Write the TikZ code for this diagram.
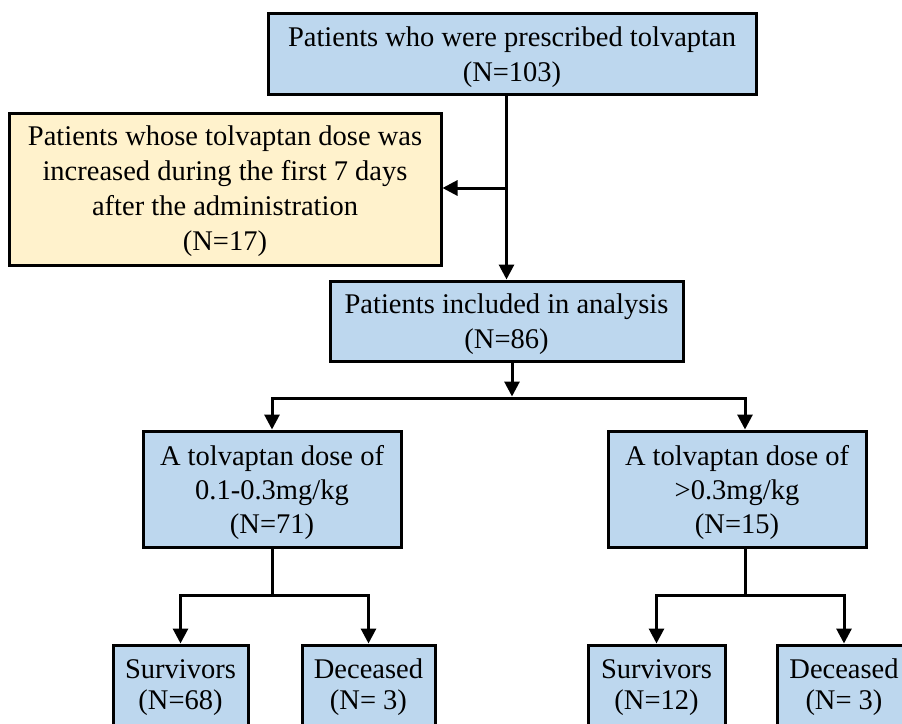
\documentclass[tikz,border=0pt]{standalone}
\usepackage{fontspec}
\setmainfont{Liberation Serif}
\usetikzlibrary{arrows.meta}
\definecolor{boxblue}{RGB}{189,215,238}
\definecolor{boxyellow}{RGB}{255,242,204}
\begin{document}
\begin{tikzpicture}[x=1pt,y=-1pt,
  box/.style={draw=black, line width=3pt, fill=boxblue, inner xsep=0pt, inner ysep=0pt,
    align=center, anchor=base, font=\fontsize{28.5}{35}\selectfont},
  midbox/.style={box, font=\fontsize{28.5}{34}\selectfont, minimum width=258pt, text height=102pt, text depth=14pt},
  botbox/.style={box, font=\fontsize{28.5}{31}\selectfont, text height=64pt, text depth=100pt},
  conn/.style={line width=3pt},
  arr/.style={line width=3pt, -{Triangle[width=15pt,length=15pt]}}]
\useasboundingbox (0,0) rectangle (902,723);
\clip (0,0) rectangle (902,723);
\fill[white] (0,0) rectangle (902,723);

\node[box, minimum width=488pt, text height=68pt, text depth=13pt] (top) at (512,81)
  {Patients who were prescribed tolvaptan\\(N=103)};
\node[box, fill=boxyellow, minimum width=432pt, text height=137pt, text depth=15pt] (excl) at (225,250)
  {Patients whose tolvaptan dose was\\increased during the first 7 days\\after the administration\\(N=17)};
\node[box, minimum width=353pt, text height=67pt, text depth=13pt] (incl) at (506.5,348)
  {Patients included in analysis\\(N=86)};
\node[midbox] (lowd) at (272,533) {A tolvaptan dose of\\0.1-0.3mg/kg\\(N=71)};
\node[midbox] (highd) at (737,533) {A tolvaptan dose of\\>0.3mg/kg\\(N=15)};
\node[botbox, minimum width=135pt] (s1) at (180.5,709) {Survivors\\(N=68)};
\node[botbox, minimum width=133pt] (d1) at (368.5,709) {Deceased\\(N= 3)};
\node[botbox, minimum width=137pt] (s2) at (656.5,709) {Survivors\\(N=12)};
\node[botbox, minimum width=134pt] (d2) at (844,709) {Deceased\\(N= 3)};

\draw[arr] (top.south -| incl.north) -- (incl.north);
\coordinate (b1) at (506.5,188);
\draw[arr] (b1) -- (b1 -| excl.east);

\coordinate (s) at (512,398);
\draw[arr] (incl.south -| s) -- ([yshift=1.5pt]s);
\draw[arr] (s) -| (lowd.north);
\draw[arr] (s) -| ([xshift=8pt]highd.north);

\coordinate (t1) at (272,595);
\draw[conn] (lowd.south) -- (t1);
\draw[arr] (t1) -| (s1.north);
\draw[arr] (t1) -| (d1.north);

\coordinate (t2) at (745,595);
\draw[conn] ([xshift=8pt]highd.south) -- (t2);
\draw[arr] (t2) -| (s2.north);
\draw[arr] (t2) -| (d2.north);
\end{tikzpicture}
\end{document}
